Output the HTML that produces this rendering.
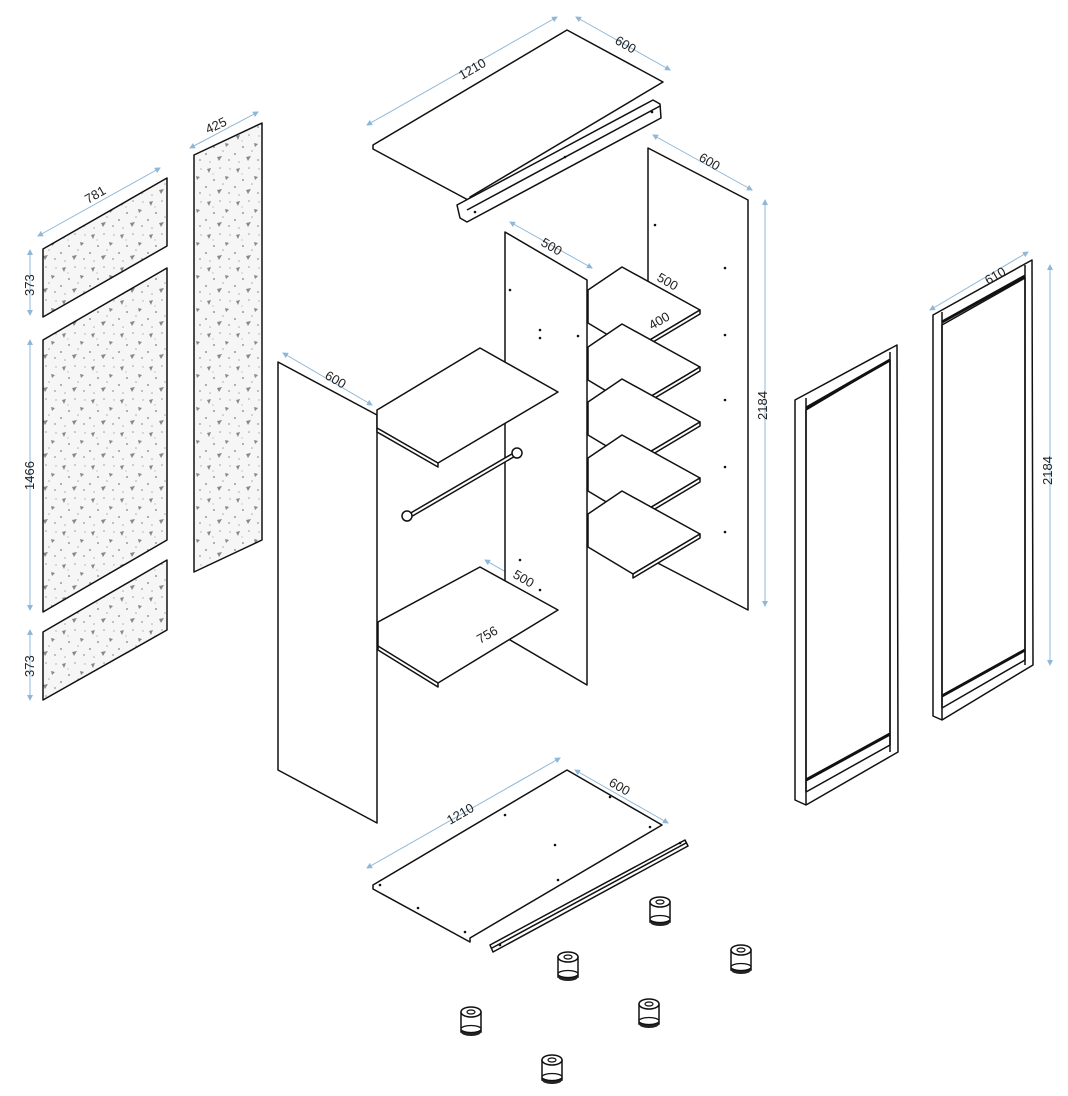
<!DOCTYPE html>
<html><head><meta charset="utf-8"><style>
html,body{margin:0;padding:0;background:#fff;}
svg{display:block;}
text{font-family:"Liberation Sans",sans-serif;font-size:13px;fill:#222;}
</style></head><body>
<svg width="1068" height="1096" viewBox="0 0 1068 1096" xmlns="http://www.w3.org/2000/svg">
<defs>
<pattern id="sp" width="29" height="33" patternUnits="userSpaceOnUse">
<rect width="29" height="33" fill="#f6f6f6"/>
<polygon points="4,4 8,3 6,8" fill="#888"/><circle cx="17" cy="3" r="0.8" fill="#999"/>
<polygon points="22,11 26,12 23,15" fill="#888"/><circle cx="11" cy="15" r="1" fill="#999"/>
<circle cx="3" cy="22" r="1" fill="#999"/><polygon points="14,25 19,24 16,29" fill="#888"/>
<circle cx="26" cy="28" r="0.9" fill="#999"/><circle cx="20" cy="19" r="0.8" fill="#aaa"/>
<circle cx="7" cy="30" r="0.8" fill="#aaa"/><circle cx="27" cy="4" r="0.7" fill="#aaa"/>
<circle cx="10" cy="9" r="0.6" fill="#aaa"/>
</pattern>
<marker id="ar" viewBox="0 0 6 6" refX="5" refY="3" markerWidth="6" markerHeight="6" orient="auto-start-reverse"><path d="M0,0 L6,3 L0,6z" fill="#8fb8d8"/></marker>
<g id="foot">
<rect x="-10" y="-8" width="20" height="20" fill="#fff" stroke="#111" stroke-width="1.5"/>
<ellipse cx="0" cy="12" rx="10" ry="4" fill="#222"/>
<ellipse cx="0" cy="9" rx="10" ry="3.5" fill="#fff" stroke="#111" stroke-width="1.3"/>
<ellipse cx="0" cy="-8" rx="10" ry="5" fill="#fff" stroke="#111" stroke-width="1.5"/>
<ellipse cx="0" cy="-8" rx="4" ry="2" fill="#fff" stroke="#111" stroke-width="1.2"/>
</g>
<g id="shelf">
<polygon points="588,290 622,267 700,310 633,350 588,323"/>
<polygon points="633,350 700,310 700,314 633,354"/>
</g>
</defs>
<g stroke="#8fb8d8" stroke-width="1" fill="none" marker-start="url(#ar)" marker-end="url(#ar)">
<line x1="367" y1="125" x2="557" y2="17"/><line x1="576" y1="17" x2="670" y2="70"/>
<line x1="190" y1="148" x2="258" y2="112"/><line x1="38" y1="236" x2="160" y2="168"/>
<line x1="30" y1="250" x2="30" y2="315"/><line x1="30" y1="340" x2="30" y2="610"/>
<line x1="30" y1="630" x2="30" y2="700"/>
<line x1="283" y1="353" x2="372" y2="405"/><line x1="653" y1="135" x2="752" y2="190"/>
<line x1="765" y1="200" x2="765" y2="606"/><line x1="510" y1="222" x2="592" y2="268"/>
<line x1="650" y1="260" x2="702" y2="303"/><line x1="620" y1="343" x2="700" y2="300"/>
<line x1="930" y1="310" x2="1028" y2="252"/><line x1="1050" y1="265" x2="1050" y2="665"/>
<line x1="485" y1="560" x2="560" y2="603"/><line x1="440" y1="675" x2="555" y2="612"/>
<line x1="367" y1="868" x2="560" y2="758"/><line x1="575" y1="770" x2="668" y2="823"/>
</g>
<g stroke="#111" stroke-width="1.5" fill="#fff" stroke-linejoin="round">
<polygon points="373,145 567,30 663,82 470,197 470,201 373,149"/>
<polygon points="457,205 653,100 660,104 661,118 467,222 460,218"/>
<line x1="467" y1="210" x2="660" y2="106"/>
<polygon points="648,148 748,200 748,610 648,558"/>
<polygon points="505,232 587,280 587,685 505,637"/>
<use href="#shelf"/>
<use href="#shelf" y="57"/>
<use href="#shelf" y="112"/>
<use href="#shelf" y="168"/>
<use href="#shelf" y="224"/>
<polygon points="278,362 377,415 377,823 278,770"/>
<polygon points="377,410 480,348 558,392 438,463 438,467 377,432"/>
<line x1="377" y1="428" x2="438" y2="463"/>
<polygon points="378,622 480,567 558,610 438,683 438,687 378,650"/>
<line x1="378" y1="646" x2="438" y2="683"/>
<line x1="409" y1="516" x2="517" y2="453" stroke-width="5"/>
<line x1="409" y1="516" x2="517" y2="453" stroke="#fff" stroke-width="2"/>
<circle cx="407" cy="516" r="5"/><circle cx="517" cy="453" r="5"/>
<polygon points="373,885 567,770 662,825 470,938 470,942 373,889"/>
<polygon points="490,945 685,840 688,846 493,952"/>
<line x1="492" y1="948" x2="686" y2="843"/>
<polygon points="43,249 167,178 167,246 43,317" fill="url(#sp)"/>
<polygon points="43,340 167,268 167,540 43,612" fill="url(#sp)"/>
<polygon points="43,632 167,560 167,630 43,700" fill="url(#sp)"/>
<polygon points="194,155 262,123 262,540 194,572" fill="url(#sp)"/>
<polygon points="795,400 897,345 898,752 806,805 795,800"/>
<polygon points="806,410 890,360 890,745 806,792"/>
<line x1="806" y1="398" x2="806" y2="805"/><line x1="890" y1="352" x2="890" y2="752"/>
<line x1="806" y1="780" x2="890" y2="734" stroke-width="3"/>
<line x1="806" y1="408" x2="890" y2="360" stroke-width="3"/>
<polygon points="933,315 1032,260 1033,665 942,720 933,716"/>
<polygon points="942,325 1025,278 1025,660 942,708"/>
<line x1="942" y1="312" x2="942" y2="720"/><line x1="1025" y1="265" x2="1025" y2="665"/>
<line x1="942" y1="696" x2="1025" y2="650" stroke-width="3"/>
<line x1="942" y1="322" x2="1025" y2="276" stroke-width="3"/>
</g>
<g fill="#111">
<circle cx="565" cy="157" r="1.3"/><circle cx="652" cy="112" r="1.3"/><circle cx="475" cy="212" r="1.3"/>
<circle cx="540" cy="330" r="1.3"/><circle cx="540" cy="338" r="1.3"/><circle cx="578" cy="336" r="1.3"/>
<circle cx="510" cy="290" r="1.3"/><circle cx="725" cy="268" r="1.3"/><circle cx="725" cy="335" r="1.3"/>
<circle cx="725" cy="400" r="1.3"/><circle cx="725" cy="467" r="1.3"/><circle cx="725" cy="532" r="1.3"/>
<circle cx="655" cy="225" r="1.3"/><circle cx="505" cy="815" r="1.3"/><circle cx="555" cy="845" r="1.3"/>
<circle cx="558" cy="880" r="1.3"/><circle cx="610" cy="797" r="1.3"/><circle cx="650" cy="827" r="1.3"/>
<circle cx="380" cy="885" r="1.3"/><circle cx="418" cy="908" r="1.3"/><circle cx="465" cy="932" r="1.3"/>
<circle cx="500" cy="945" r="1.3"/><circle cx="680" cy="843" r="1.3"/><circle cx="520" cy="560" r="1.3"/>
<circle cx="540" cy="590" r="1.3"/>
</g>
<use href="#foot" x="660" y="910"/><use href="#foot" x="741" y="958"/>
<use href="#foot" x="568" y="965"/><use href="#foot" x="649" y="1012"/>
<use href="#foot" x="471" y="1020"/><use href="#foot" x="552" y="1068"/>
<g>
<text transform="translate(462,80) rotate(-30)">1210</text>
<text transform="translate(614,43) rotate(30)">600</text>
<text transform="translate(208,134) rotate(-25)">425</text>
<text transform="translate(88,204) rotate(-30)">781</text>
<text transform="translate(34,296) rotate(-90)">373</text>
<text transform="translate(34,490) rotate(-90)">1466</text>
<text transform="translate(34,677) rotate(-90)">373</text>
<text transform="translate(324,378) rotate(30)">600</text>
<text transform="translate(698,160) rotate(30)">600</text>
<text transform="translate(767,420) rotate(-90)">2184</text>
<text transform="translate(540,245) rotate(30)">500</text>
<text transform="translate(656,280) rotate(30)">500</text>
<text transform="translate(652,330) rotate(-30)">400</text>
<text transform="translate(988,285) rotate(-30)">610</text>
<text transform="translate(1052,485) rotate(-90)">2184</text>
<text transform="translate(512,577) rotate(30)">500</text>
<text transform="translate(480,644) rotate(-30)">756</text>
<text transform="translate(450,825) rotate(-30)">1210</text>
<text transform="translate(608,785) rotate(30)">600</text>
</g>
</svg>
</body></html>
